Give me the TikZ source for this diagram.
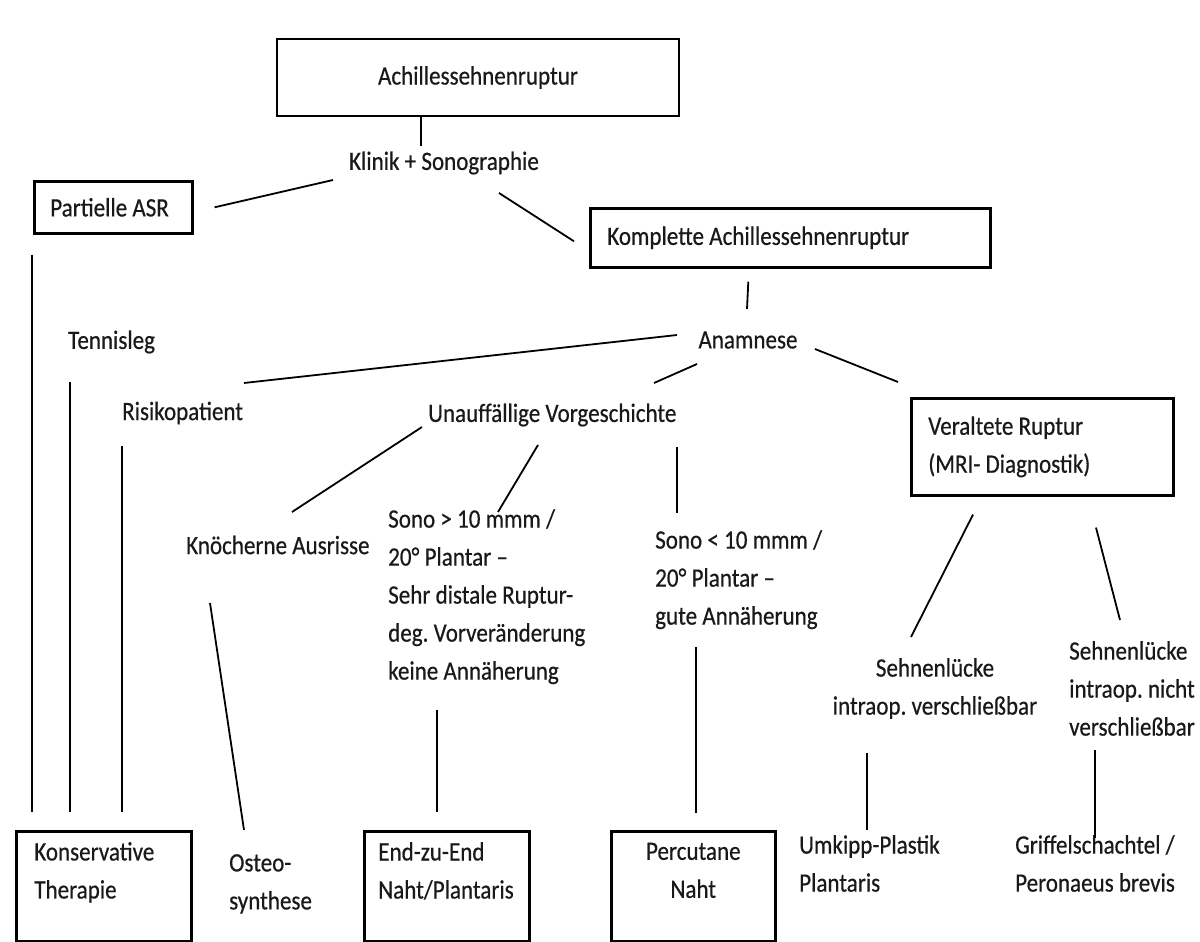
\documentclass[tikz,border=0pt]{standalone}
\usepackage{fontspec}
\setmainfont{Carlito}[FakeStretch=0.87,FakeBold=0.5]
\frenchspacing

\begin{document}
\begin{tikzpicture}[x=1pt,y=-1pt,font=\fontsize{26.5}{38}\selectfont,every node/.style={inner sep=0pt,text=black!90},box/.style={draw,line width=2.6pt,anchor=north west,align=flush left,inner xsep=16pt},txt/.style={anchor=west,align=left},link/.style={line width=1.8pt}]
\useasboundingbox (0,0) rectangle (1200,942);
\node[draw,line width=2.6pt,minimum width=402pt,minimum height=77pt](root) at (478,77.5) {Achillessehnenruptur};
\node(klinik) at (444,163) {Klinik + Sonographie};
\node[box,text width=126pt,minimum height=52pt](partielle) at (33,180) {Partielle ASR};
\node[box,text width=366pt,inner xsep=17pt,minimum height=59pt](komplette) at (589,207) {Komplette Achillessehnenruptur};
\node(anamnese) at (748,340) {Anamnese};
\node[txt](tennis) at (68,342) {Tennisleg};
\node[txt](risiko) at (122,413) {Risikopatient};
\node[txt](unauff) at (428,415) {Unauffällige Vorgeschichte};
\node[box,text width=228pt,inner xsep=17pt,minimum height=97pt](veraltet) at (910,397) {Veraltete Ruptur\\(MRI- Diagnostik)};
\node[txt](knoch) at (186,545) {Knöcherne Ausrisse};
\node[txt,anchor=north west](sonogt) at (388,509) {Sono > 10 mmm /\\20° Plantar –\\Sehr distale Ruptur-\\deg. Vorveränderung\\keine Annäherung};
\node[txt,anchor=north west](sonolt) at (655,530) {Sono < 10 mmm /\\20° Plantar –\\gute Annäherung};
\node[align=center,anchor=north](sehnen1) at (935,658) {Sehnenlücke\\intraop. verschließbar};
\node[txt,anchor=north west](sehnen2) at (1069,641) {Sehnenlücke\\intraop. nicht\\verschließbar};
\node[box,text width=139pt,inner xsep=18pt,minimum height=110pt,text depth=70pt](konserv) at (15,830) {Konservative\\Therapie};
\node[txt,anchor=north west](osteo) at (229,854) {Osteo-\\synthese};
\node[box,text width=137pt,inner xsep=14pt,minimum height=110pt,text depth=70pt](endzu) at (363,830) {End-zu-End\\Naht/Plantaris};
\node[box,align=center,text width=132pt,minimum height=110pt,text depth=70pt](percut) at (610,830) {Percutane\\Naht};
\node[txt,anchor=north west](umkipp) at (799,835) {Umkipp-Plastik\\Plantaris};
\node[txt,anchor=north west](griffel) at (1015,835) {Griffelschachtel /\\Peronaeus brevis};
\draw[link] ([shift={(-57,0)}]root.south) -- ([shift={(-23,-17)}]klinik.center);
\draw[link] ([shift={(-111,17)}]klinik.center) -- ([shift={(21,0)}]partielle.east);
\draw[link] ([shift={(55,30)}]klinik.center) -- ([shift={(-15,3.5)}]komplette.west);
\draw[link] ([shift={(-42,13)}]komplette.south) -- ([shift={(-1,-31)}]anamnese.center);
\draw[link] ([shift={(-71,-5)}]anamnese.center) -- ([shift={(122,-30)}]risiko.west);
\draw[link] ([shift={(-51,24)}]anamnese.center) -- ([shift={(226,-32)}]unauff.west);
\draw[link] ([shift={(67,9)}]anamnese.center) -- ([shift={(-12,-15)}]veraltet.north west);
\draw[link] ([shift={(-1,20)}]partielle.south west) -- ([shift={(17,-18)}]konserv.north west);
\draw[link] ([shift={(2,40)}]tennis.west) -- ([shift={(55,-18)}]konserv.north west);
\draw[link] ([shift={(0,33)}]risiko.west) -- ([shift={(107,-18)}]konserv.north west);
\draw[link] ([shift={(-6,12)}]unauff.west) -- ([shift={(106,-33)}]knoch.west);
\draw[link] ([shift={(110,30)}]unauff.west) -- ([shift={(110,3)}]sonogt.north west);
\draw[link] ([shift={(249,32)}]unauff.west) -- ([shift={(22,-17)}]sonolt.north west);
\draw[link] ([shift={(24,58)}]knoch.west) -- ([shift={(15,-24)}]osteo.north west);
\draw[link] ([shift={(49,26)}]sonogt.south west) -- ([shift={(74,-18)}]endzu.north west);
\draw[link] ([shift={(41,18)}]sonolt.south west) -- ([shift={(86,-17)}]percut.north west);
\draw[link] ([shift={(63,18)}]veraltet.south west) -- ([shift={(-24,-21)}]sehnen1.north);
\draw[link] ([shift={(186,31)}]veraltet.south west) -- ([shift={(51,-21)}]sehnen2.north west);
\draw[link] ([shift={(-68,34)}]sehnen1.south) -- ([shift={(68,-5)}]umkipp.north west);
\draw[link] ([shift={(26,14)}]sehnen2.south west) -- ([shift={(80,3)}]griffel.north west);
\end{tikzpicture}
\end{document}
